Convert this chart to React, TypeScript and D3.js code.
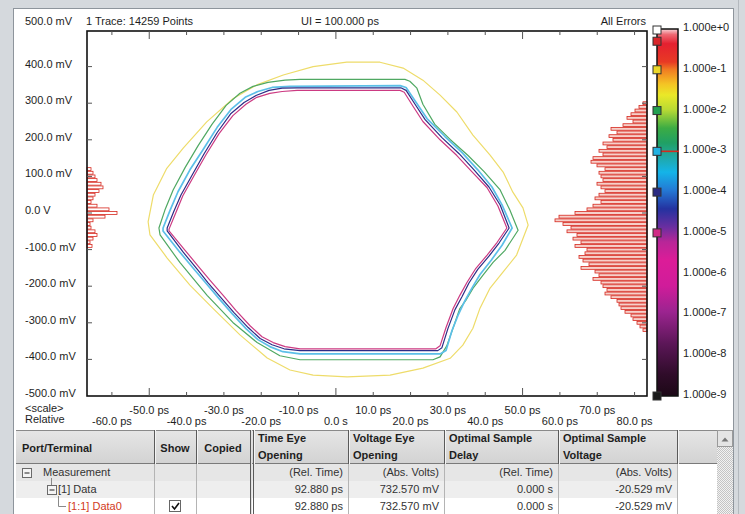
import React from "react";
import * as d3 from "d3";

type Pt = [number, number];

// ---------- header texts ----------
const traceInfo = "1 Trace: 14259 Points";
const unitInterval = "UI = 100.000 ps";
const errorMode = "All Errors";

// ---------- axes ----------
const voltTicks = [500, 400, 300, 200, 100, 0, -100, -200, -300, -400, -500];
const timeTicks = [-60, -50, -40, -30, -20, -10, 0, 10, 20, 30, 40, 50, 60, 70, 80];
const uiBoundaryTicks = [-50, 0, 50];

// ---------- BER colour scale ----------
const berDecades = [0, 1, 2, 3, 4, 5, 6, 7, 8, 9];
const markerDecades = [0, 0.3, 1, 2, 3, 4, 5, 9];
const thresholdDecade = 3;

// ---------- BER contours: [time ps, voltage mV] ----------
const contourYellow: Pt[] = [
  [-50.3, -24], [-48.9, 49], [-45.3, 122], [-40.9, 177], [-34.6, 249], [-27.5, 313], [-21.2, 350],
  [-14.1, 377], [-6.1, 400], [2.9, 412], [11.8, 412], [18.0, 396], [23.3, 363], [27.9, 322],
  [32.4, 276], [36.7, 213], [41.3, 158], [44.8, 112], [47.4, 57], [50.1, 14], [51.5, -33],
  [48.4, -115], [44.8, -161], [41.3, -205], [38.6, -260], [36.7, -315], [34.0, -361], [30.6, -397],
  [23.3, -424], [14.5, -443], [3.0, -448], [-6.1, -443], [-12.3, -429], [-18.4, -396], [-25.7, -333],
  [-33.0, -260], [-39.1, -197], [-45.2, -123], [-49.8, -60],
];
const contourGreen: Pt[] = [
  [-47.4, -41], [-45.8, 8], [-43.6, 63], [-40.4, 124], [-36.9, 184], [-33.2, 242], [-29.4, 294],
  [-25.7, 327], [-22.2, 346], [-18.2, 357], [-13.6, 363], [-9.6, 365], [18.5, 365], [19.8, 360],
  [21.7, 341], [23.3, 297], [26.5, 242], [30.6, 201], [35.4, 157], [39.7, 113], [44.0, 63],
  [46.6, 8], [48.8, -47], [45.3, -102], [42.1, -135], [39.4, -170], [36.7, -206], [34.8, -239],
  [33.2, -261], [31.6, -308], [29.7, -363], [27.9, -393], [26.0, -401], [-9.6, -401], [-15.0, -390],
  [-21.1, -354], [-27.6, -299], [-34.5, -225], [-41.8, -135], [-47.1, -60],
];
const contourCyan: Pt[] = [
  [-46.3, -41], [-44.4, 8], [-42.3, 58], [-39.1, 118], [-35.6, 173], [-31.8, 234], [-28.1, 283],
  [-24.3, 316], [-20.9, 332], [-17.1, 343], [-12.3, 346], [17.2, 348], [18.8, 343], [21.5, 302],
  [24.4, 258], [29.2, 209], [33.8, 165], [38.0, 118], [41.8, 71], [44.5, 22], [47.2, -41],
  [44.5, -88], [41.6, -129], [38.6, -168], [36.4, -206], [34.6, -239], [32.7, -280], [31.1, -321],
  [29.5, -376], [27.9, -385], [-9.6, -385], [-14.2, -379], [-17.7, -365], [-20.9, -346], [-24.1, -316],
  [-27.8, -275], [-31.3, -234], [-34.8, -192], [-37.7, -157], [-41.8, -107], [-46.3, -49],
];
const contourNavy: Pt[] = [
  [-45.2, -41], [-43.4, 5], [-41.5, 49], [-38.5, 104], [-35.3, 162], [-31.8, 220], [-28.1, 272],
  [-24.6, 302], [-21.4, 321], [-17.9, 335], [-14.4, 341], [-10.4, 342], [17.4, 342], [18.8, 335],
  [21.2, 297], [23.9, 255], [28.4, 206], [33.0, 162], [37.0, 118], [41.0, 71], [44.0, 22],
  [46.4, -41], [43.7, -82], [41.0, -118], [38.0, -154], [35.6, -192], [33.8, -228], [31.9, -264],
  [30.0, -316], [28.4, -368], [27.3, -376], [-9.6, -376], [-13.9, -371], [-17.1, -360], [-20.3, -343],
  [-23.5, -313], [-27.3, -272], [-30.8, -231], [-34.3, -190], [-36.9, -157], [-40.9, -107], [-45.2, -49],
];
const contourMagenta: Pt[] = [
  [-44.7, -44], [-42.8, 3], [-41.0, 47], [-38.0, 102], [-34.8, 159], [-31.3, 217], [-27.6, 266],
  [-24.1, 297], [-21.2, 316], [-17.7, 327], [-14.4, 332], [-10.4, 335], [17.2, 335], [18.3, 330],
  [20.7, 291], [23.3, 250], [27.9, 200], [32.4, 157], [36.4, 113], [40.5, 69], [43.4, 19],
  [45.8, -41], [43.2, -80], [40.5, -115], [37.5, -151], [35.1, -190], [33.2, -225], [31.4, -261],
  [29.5, -313], [27.9, -363], [26.8, -371], [-9.6, -371], [-13.6, -365], [-16.8, -354], [-19.8, -338],
  [-23.0, -308], [-26.8, -266], [-30.2, -225], [-33.7, -184], [-36.4, -151], [-40.4, -102], [-44.7, -49],
];

// ---------- crossing-voltage histograms: [voltage mV, hits] ----------
const rightHistogram: Pt[] = [
  [300, 4], [290, 8], [280, 12], [270, 16], [260, 20], [250, 14], [240, 24], [230, 36], [220, 30],
  [210, 38], [200, 34], [190, 44], [180, 40], [170, 48], [160, 44], [150, 54], [140, 56], [130, 50],
  [120, 42], [110, 48], [100, 46], [90, 44], [80, 50], [70, 46], [60, 42], [50, 48], [40, 52],
  [30, 46], [20, 54], [10, 60], [0, 72], [-10, 88], [-20, 92], [-30, 84], [-40, 76], [-50, 80],
  [-60, 70], [-70, 74], [-80, 66], [-90, 72], [-100, 60], [-110, 62], [-120, 68], [-130, 64],
  [-140, 58], [-150, 66], [-160, 52], [-170, 48], [-180, 54], [-190, 46], [-200, 44], [-210, 40],
  [-220, 42], [-230, 36], [-240, 30], [-250, 28], [-260, 26], [-270, 22], [-280, 16], [-290, 14],
  [-300, 10], [-310, 7], [-320, 4],
];
const leftHistogram: Pt[] = [
  [120, 4], [110, 6], [100, 8], [90, 10], [80, 14], [70, 16], [60, 12], [50, 8], [40, 6], [30, 4],
  [20, 10], [10, 22], [0, 30], [-10, 18], [-20, 6], [-30, 3], [-40, 4], [-50, 8], [-60, 10],
  [-70, 6], [-80, 3], [-90, 5],
];

// ---------- measurement table ----------
const tableHeaders = [
  ["Port/Terminal"], ["Show"], ["Copied"], ["Time Eye", "Opening"], ["Voltage Eye", "Opening"],
  ["Optimal Sample", "Delay"], ["Optimal Sample", "Voltage"],
];
const rowNames = ["Measurement", "[1] Data", "[1:1] Data0"];
const unitsRow = ["(Rel. Time)", "(Abs. Volts)", "(Rel. Time)", "(Abs. Volts)"];
const dataValues = ["92.880 ps", "732.570 mV", "0.000 s", "-20.529 mV"];
const data0Values = ["92.880 ps", "732.570 mV", "0.000 s", "-20.529 mV"];
const rowValues = [unitsRow, dataValues, data0Values];
const rowShown = [false, false, true];

// ---------- layout ----------
const W = 745;
const H = 514;
const FONT = "'Liberation Sans', Arial, Helvetica, sans-serif";
const plot = { left: 87, right: 647, top: 31, bottom: 396 };
const cbar = { left: 657, right: 678, top: 29, bottom: 396 };
const table = { left: 16, right: 717, top: 430, headBottom: 464, rowH: 17 };
const colEdges = [16, 154, 196, 253, 348, 444, 558, 677];
const contourColors = ["#eedc6a", "#4fa862", "#5cbfe8", "#2e2c86", "#cc3a82"];
const markerColors = ["#ffffff", "#d8262a", "#ecd82a", "#22a050", "#22b2e2", "#2a2a82", "#d02a86", "#1a1a1a"];
const cbarStops: [number, string][] = [
  [0, "#f6d4d8"], [0.015, "#ee6a74"], [0.04, "#e42030"], [0.09, "#e83a24"], [0.11, "#f07a22"],
  [0.15, "#f4c424"], [0.18, "#eae828"], [0.22, "#b8da34"], [0.27, "#3cac44"], [0.31, "#20a064"],
  [0.35, "#20a8a8"], [0.39, "#14b4e8"], [0.44, "#2478d4"], [0.49, "#2432a0"], [0.54, "#6a2ea0"],
  [0.58, "#b82698"], [0.63, "#dc1c98"], [0.7, "#d01c9a"], [0.77, "#9c2490"], [0.86, "#5a1656"],
  [0.94, "#300c2a"], [1, "#1c0816"],
];

const fmtVolt = (v: number) => (v === 0 ? "0.0 V" : `${v.toFixed(1)} mV`);
const fmtTime = (v: number) => (v === 0 ? "0.0 s" : `${v.toFixed(1)} ps`);
const fmtBer = (d: number) => `1.000e${d === 0 ? "+0" : "-" + d}`;

export default function App() {
  const x = d3.scaleLinear().domain([-66.67, 83.33]).range([plot.left, plot.right]);
  const y = d3.scaleLinear().domain([-500, 500]).range([plot.bottom, 30]);
  const cb = d3.scaleLinear().domain([0, 9]).range([cbar.top, cbar.bottom]);
  const hits = d3.scaleLinear().domain([0, 100]).range([0, 100]);

  const contour = d3
    .line<Pt>()
    .x((d) => x(d[0]))
    .y((d) => y(d[1]))
    .curve(d3.curveLinearClosed);

  const contours = [contourYellow, contourGreen, contourCyan, contourNavy, contourMagenta];
  const binHalf = 5;

  const txt = { fontFamily: FONT, fontSize: 11, fill: "#1e1e1e" } as const;

  const rowTop = (i: number) => table.headBottom + i * table.rowH;
  const metricCols = [3, 4, 5, 6];

  return (
    <svg
      width={W}
      height={H}
      style={{ position: "absolute", left: 0, top: 0, display: "block" }}
    >
      <defs>
        <linearGradient id="berGrad" x1="0" y1="0" x2="0" y2="1">
          {cbarStops.map(([o, c], i) => (
            <stop key={i} offset={o} stopColor={c} />
          ))}
        </linearGradient>
        <linearGradient id="headGrad" x1="0" y1="0" x2="0" y2="1">
          <stop offset="0" stopColor="#e6e6e6" />
          <stop offset="1" stopColor="#d2d2d2" />
        </linearGradient>
        <pattern id="track" width="2" height="2" patternUnits="userSpaceOnUse">
          <rect width="2" height="2" fill="#f2f2f2" />
          <rect width="1" height="1" fill="#c4c4c4" />
          <rect x="1" y="1" width="1" height="1" fill="#c4c4c4" />
        </pattern>
      </defs>

      {/* window chrome */}
      <rect width={W} height={H} fill="#d5d9dd" />
      <rect x={13.5} y={8.5} width={720} height={H} fill="#ffffff" stroke="#8e959c" />
      <line x1={738.5} y1={0} x2={738.5} y2={H} stroke="#b4b9be" />

      {/* title row */}
      <text {...txt} x={plot.left - 1} y={25}>{traceInfo}</text>
      <text {...txt} x={340} y={25} textAnchor="middle">{unitInterval}</text>
      <text {...txt} x={plot.right - 1} y={25} textAnchor="end">{errorMode}</text>

      {/* voltage axis labels */}
      {voltTicks.map((v, i) => (
        <text key={v} {...txt} x={25} y={i === 0 ? 25 : y(v) + 1}>
          {fmtVolt(v)}
        </text>
      ))}

      {/* histograms */}
      <g>
        {rightHistogram.map(([mv, h]) => (
          <rect
            key={"r" + mv}
            x={plot.right - hits(h)}
            y={y(mv + binHalf) + 0.4}
            width={hits(h)}
            height={y(mv - binHalf) - y(mv + binHalf) - 0.8}
            fill="#f6d0ca"
            stroke="#d6281e"
            strokeWidth={0.8}
          />
        ))}
        {leftHistogram.map(([mv, h]) => (
          <rect
            key={"l" + mv}
            x={plot.left}
            y={y(mv + binHalf) + 0.4}
            width={hits(h)}
            height={y(mv - binHalf) - y(mv + binHalf) - 0.8}
            fill="#ffffff"
            stroke="#d6281e"
            strokeWidth={0.8}
          />
        ))}
      </g>

      {/* BER contours */}
      {contours.map((c, i) => (
        <path
          key={i}
          d={contour(c) ?? ""}
          fill="none"
          stroke={contourColors[i]}
          strokeWidth={i === 2 ? 1.7 : 1.2}
          strokeLinejoin="round"
        />
      ))}

      {/* plot frame and ticks */}
      <rect
        x={plot.left}
        y={plot.top}
        width={plot.right - plot.left}
        height={plot.bottom - plot.top}
        fill="none"
        stroke="#111"
        strokeWidth={1.6}
      />
      {timeTicks.map((t) => {
        const len = uiBoundaryTicks.includes(t) ? 8 : 4;
        return (
          <g key={t} stroke="#555" strokeWidth={1}>
            <line x1={x(t)} x2={x(t)} y1={plot.top} y2={plot.top + len} />
            <line x1={x(t)} x2={x(t)} y1={plot.bottom} y2={plot.bottom - len} />
          </g>
        );
      })}
      {voltTicks.slice(1, -1).map((v) => (
        <g key={v} stroke="#555" strokeWidth={1}>
          <line x1={plot.left} x2={plot.left + 5} y1={y(v)} y2={y(v)} />
          <line x1={plot.right} x2={plot.right - 5} y1={y(v)} y2={y(v)} />
        </g>
      ))}

      {/* time axis labels, staggered on two rows */}
      <text {...txt} x={25} y={412}>{"<scale>"}</text>
      <text {...txt} x={25} y={423}>Relative</text>
      {timeTicks.map((t, i) => (
        <text key={t} {...txt} x={x(t)} y={i % 2 === 1 ? 414 : 425} textAnchor="middle">
          {fmtTime(t)}
        </text>
      ))}

      {/* BER colour bar */}
      <rect
        x={cbar.left}
        y={cbar.top}
        width={cbar.right - cbar.left}
        height={cbar.bottom - cbar.top}
        fill="url(#berGrad)"
        stroke="#111"
        strokeWidth={1.5}
      />
      <line
        x1={cbar.left + 3}
        x2={cbar.right + 1}
        y1={cb(thresholdDecade)}
        y2={cb(thresholdDecade)}
        stroke="#d42a20"
        strokeWidth={1.6}
      />
      {markerDecades.map((d, i) => (
        <rect
          key={d}
          x={cbar.left - 4}
          y={cb(d) - 4 + (i === 0 ? 1 : 0)}
          width={8}
          height={8}
          fill={markerColors[i]}
          stroke="#333"
          strokeWidth={1}
        />
      ))}
      {berDecades.map((d) => (
        <text key={d} {...txt} x={683} y={cb(d) + 2}>
          {fmtBer(d)}
        </text>
      ))}

      {/* measurement table */}
      <g>
        <rect
          x={table.left}
          y={table.top}
          width={table.right - table.left}
          height={table.headBottom - table.top}
          fill="url(#headGrad)"
        />
        {rowNames.map((_, i) => (
          <g key={i}>
            <rect
              x={table.left}
              y={rowTop(i)}
              width={colEdges[7] - table.left}
              height={table.rowH}
              fill={i === 0 ? "#e6e6e6" : i === 1 ? "#eeeeee" : "#ffffff"}
            />
            <line
              x1={table.left}
              x2={colEdges[7]}
              y1={rowTop(i + 1) + 0.5}
              y2={rowTop(i + 1) + 0.5}
              stroke="#c2c2c2"
            />
          </g>
        ))}
        <line x1={table.left} x2={table.right} y1={table.top + 0.5} y2={table.top + 0.5} stroke="#8a8a8a" />
        <line
          x1={table.left}
          x2={table.right}
          y1={table.headBottom - 0.5}
          y2={table.headBottom - 0.5}
          stroke="#7a7a7a"
        />
        {/* column separators */}
        {colEdges.slice(1).map((cx, i) => (
          <g key={cx}>
            <line x1={cx + 0.5} x2={cx + 0.5} y1={table.top} y2={table.headBottom} stroke="#5a5a5a" />
            <line x1={cx + 1.5} x2={cx + 1.5} y1={table.top} y2={table.headBottom} stroke="#f4f4f4" />
            <line
              x1={cx + 0.5}
              x2={cx + 0.5}
              y1={table.headBottom}
              y2={H}
              stroke={i === 2 ? "#5a5a5a" : "#b4b4b4"}
            />
          </g>
        ))}
        <line x1={250.5} x2={250.5} y1={table.top} y2={H} stroke="#5a5a5a" />
        <line x1={251.5} x2={251.5} y1={table.top} y2={H} stroke="#e0e0e0" />

        {/* header captions */}
        {tableHeaders.map((lines, ci) => {
          const x0 = colEdges[ci];
          const x1 = ci === 2 ? 250 : colEdges[ci + 1];
          const centered = ci === 1 || ci === 2;
          const tx = centered ? (x0 + x1) / 2 : x0 + (ci === 0 ? 6 : 5);
          return lines.map((s, li) => (
            <text
              key={ci + "-" + li}
              {...txt}
              fontWeight="bold"
              x={tx}
              y={lines.length === 1 ? 452 : 442 + li * 17}
              textAnchor={centered ? "middle" : "start"}
            >
              {s}
            </text>
          ));
        })}

        {/* tree column */}
        <rect x={22.5} y={468.5} width={9} height={9} fill="#f4f4f4" stroke="#6a6a6a" />
        <line x1={24.5} x2={29.5} y1={473} y2={473} stroke="#222" />
        <line x1={51.5} x2={51.5} y1={478} y2={485} stroke="#8a8a8a" />
        <rect x={47.5} y={485.5} width={9} height={9} fill="#f4f4f4" stroke="#6a6a6a" />
        <line x1={49.5} x2={54.5} y1={490} y2={490} stroke="#222" />
        <path d="M58.5,496 V506.5 H66" fill="none" stroke="#8a8a8a" />
        {rowNames.map((name, i) => (
          <text
            key={name}
            {...txt}
            x={i === 0 ? 43 : i === 1 ? 58 : 68}
            y={rowTop(i) + 12}
            fill={i === 2 ? "#d23a22" : "#333"}
          >
            {name}
          </text>
        ))}
        {rowShown.map((shown, i) =>
          shown ? (
            <g key={i}>
              <rect x={169.5} y={rowTop(i) + 2.5} width={11} height={11} fill="#fff" stroke="#666" />
              <path
                d={`M172,${rowTop(i) + 8} l2.5,3 l4.5,-6`}
                fill="none"
                stroke="#111"
                strokeWidth={1.6}
              />
            </g>
          ) : null
        )}
        {rowValues.map((vals, ri) =>
          vals.map((v, k) => (
            <text
              key={ri + "-" + k}
              {...txt}
              fill="#333"
              x={colEdges[metricCols[k] + 1] - 5}
              y={rowTop(ri) + 12}
              textAnchor="end"
            >
              {v}
            </text>
          ))
        )}

        {/* scroll bar */}
        <rect x={717} y={table.top} width={16} height={H - table.top} fill="url(#track)" />
        <rect x={717.5} y={table.top + 0.5} width={15} height={16} fill="#e4e4e4" stroke="#9a9a9a" />
        <path d="M721.5,441.5 L725,437.5 L728.5,441.5 Z" fill="#777" />
      </g>
    </svg>
  );
}
